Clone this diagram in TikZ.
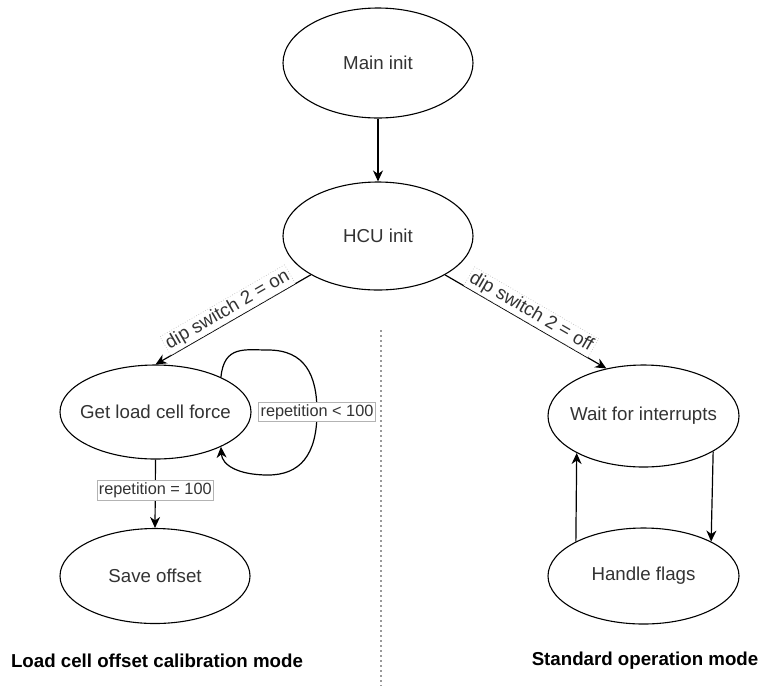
\documentclass[tikz,border=0pt]{standalone}
\usepackage{fontspec}
\setmainfont{Liberation Sans}
\usetikzlibrary{arrows.meta,shapes.geometric}

\definecolor{txt}{HTML}{333333}
\definecolor{boxline}{HTML}{B3B3B3}
\definecolor{sepline}{HTML}{999999}

% text of a state, kept out of the ellipse size computation
\newcommand{\statetext}[1]{\makebox[0pt]{#1}}

\begin{document}
\begin{tikzpicture}[x=1pt,y=-1pt,
  state/.style={ellipse, draw, line width=1.1pt, inner sep=0pt,
    font=\fontsize{18.7}{20}\selectfont, text=txt},
  flow/.style={draw, line width=1.2pt,
    -{Stealth[length=11pt,width=10pt,inset=3.5pt]}},
  diplabel/.style={sloped, above, fill=white, draw=boxline, dotted,
    line width=0.6pt, inner sep=2pt,
    font=\fontsize{18.7}{20}\selectfont, text=txt},
  replabel/.style={fill=white, draw=boxline, solid, line width=0.6pt,
    inner sep=2pt, font=\fontsize{16.3}{18}\selectfont, text=txt},
  modetitle/.style={font=\bfseries\fontsize{18.7}{20}\selectfont},
  separator/.style={draw=sepline, line width=1.3pt, dash pattern=on 2pt off 3pt}
]
\fill[white] (0,0) rectangle (759,686);
\useasboundingbox (0,0) rectangle (759,686);

% states
\node[state, minimum width=190pt, minimum height=110pt] (main)   at (378,63)    {\statetext{Main init}};
\node[state, minimum width=190pt, minimum height=108pt] (hcu)    at (378,236)   {\statetext{HCU init}};
\node[state, minimum width=191pt, minimum height=94pt]  (get)    at (155.5,412) {\statetext{Get load cell force}};
\node[state, minimum width=190pt, minimum height=95pt]  (save)   at (155,576)   {\statetext{Save offset}};
\node[state, minimum width=191pt, minimum height=102pt] (wait)   at (643.5,416) {\statetext{Wait for interrupts}};
\node[state, minimum width=191pt, minimum height=96pt]  (handle) at (643.5,576) {\statetext{Handle flags}};

% separator between the two modes
\draw[separator] (381,330) -- (381,686);

% mode titles
\node[modetitle] (calmode) at (157,661) {Load cell offset calibration mode};
\node[modetitle] (stdmode) at (645,661) {Standard operation mode};

% transitions
\draw[flow] (main) -- (hcu);
\draw[flow] (hcu) -- node[diplabel] {dip switch 2 = on} (get.north);
\draw[flow] (hcu) -- node[diplabel] {dip switch 2 = off} (wait.128);

\draw[flow] (get.28) .. controls (224,345) and (245,350) .. (268,350)
  .. controls (305,350) and (317,375) .. (317,412) node[replabel] {repetition < 100}
  .. controls (317,455) and (300,475) .. (268,475)
  .. controls (238,475) and (222,465) .. (get.-28);

\draw[flow] (get.south) -- node[replabel, pos=0.45] {repetition = 100} (save.north);

\draw[flow] (handle.153) -- (wait.209);
\draw[flow] (wait.-27) -- (handle.27);
\end{tikzpicture}
\end{document}
